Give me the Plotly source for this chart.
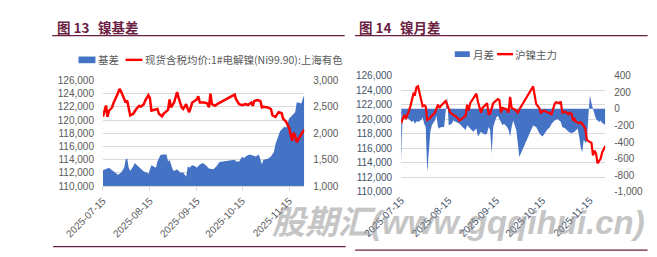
import plotly.graph_objects as go

# ---------------- data: 图13 镍基差 ----------------
basis_dates = ["07-15","07-18","07-19","07-21","07-23","07-25","07-27","07-29","07-30","07-31",
               "08-01","08-02","08-04","08-05","08-06","08-08","08-09","08-11","08-13","08-14",
               "08-16","08-17","08-19","08-20","08-22","08-24","08-26","08-27","08-28","08-30",
               "08-31","09-02","09-04","09-06","09-08","09-09","09-10","09-12","09-14","09-15",
               "09-17","09-19","09-21","09-23","09-26","09-28","09-30","10-10","10-11","10-13",
               "10-15","10-16","10-18","10-20","10-22","10-24","10-26","10-28","10-29","11-01",
               "11-03","11-05","11-06","11-07","11-08","11-09","11-10","11-11","11-12","11-13",
               "11-14","11-15","11-16","11-17","11-19","11-20","11-21","11-23","11-25"]
basis_vals = [1300,1336,1348,1300,1258,1216,1258,1348,1498,1528,
              1348,1288,1378,1438,1408,1360,1318,1276,1258,1228,
              1396,1378,1348,1468,1589,1601,1601,1468,1498,1318,
              1288,1318,1258,1258,1180,1378,1348,1396,1378,1348,
              1408,1438,1396,1336,1318,1378,1456,1498,1468,1468,
              1559,1528,1577,1601,1577,1559,1601,1408,1498,1517,
              1559,1649,1799,1889,1949,2039,2069,2099,2129,2099,
              2219,2279,2309,2339,2399,2580,2580,2562,2730]

spot_dates = ["07-15","07-17","07-18","07-19","07-21","07-22","07-24","07-26","07-27","07-29",
              "07-30","07-31","08-01","08-02","08-04","08-06","08-08","08-09","08-11","08-12",
              "08-14","08-15","08-16","08-18","08-20","08-21","08-23","08-24","08-26","08-27",
              "08-28","08-29","08-31","09-02","09-03","09-05","09-06","09-08","09-09","09-10",
              "09-12","09-14","09-15","09-16","09-17","09-20","09-22","09-23","09-24","09-25",
              "09-27","09-29","10-10","10-11","10-13","10-15","10-17","10-19","10-21","10-22",
              "10-23","10-25","10-27","10-28","10-29","11-01","11-03","11-04","11-06","11-08",
              "11-10","11-11","11-13","11-15","11-16","11-17","11-18","11-19","11-20","11-21",
              "11-23","11-25"]
spot_vals = [120500,122200,120500,121400,121900,122600,123600,124700,124300,123350,
             122640,122970,121900,120700,120950,121670,122150,122000,122400,122970,
             123740,123350,121430,121580,121670,120950,120570,120950,121430,121530,
             123120,121910,122640,124220,123350,121910,121670,122400,121670,121190,
             122640,122880,123120,123600,122640,122640,122490,121910,123980,122400,
             122150,122490,123840,123120,122400,122250,122400,122300,122640,122150,
             122880,123020,122880,121910,122000,121910,121670,120710,120470,121190,
             121050,120230,119750,118790,117590,116870,118070,117590,116630,117110,
             117830,118550]

# ---------------- data: 图14 镍月差 ----------------
spread_dates = ["07-15","07-16","07-17","07-18","07-20","07-22","07-23","07-24","07-25","07-26",
                "07-28","07-29","07-30","07-31","08-01","08-03","08-04","08-06","08-07","08-08",
                "08-09","08-10","08-12","08-13","08-14","08-15","08-17","08-18","08-20","08-22",
                "08-24","08-26","08-27","08-29","08-31","09-02","09-03","09-05","09-06","09-08",
                "09-09","09-10","09-11","09-12","09-13","09-14","09-15","09-16","09-18","09-19",
                "09-20","09-22","09-23","09-24","09-25","09-26","09-27","09-28","09-29","09-30",
                "10-09","10-11","10-12","10-13","10-15","10-16","10-18","10-20","10-21","10-23",
                "10-25","10-27","10-28","10-30","11-01","11-03","11-05","11-07","11-08","11-09",
                "11-10","11-11","11-12","11-13","11-14","11-15","11-16","11-17","11-18","11-19",
                "11-20","11-21","11-22","11-23","11-24","11-25"]
spread_vals = [-637,-65,-84,-103,-122,-160,-141,-179,-149,-160,
               -134,-103,-179,-218,-763,-275,-198,-141,-84,-218,
               -237,-218,-218,-65,145,-198,-179,-141,-160,-179,
               -218,-256,-198,-237,-275,-237,-332,-275,-294,-313,
               -294,-218,-256,-542,-218,-160,-103,-84,-160,-198,
               -179,-218,-256,-332,-218,-141,-198,-256,-408,-580,
               -200,-218,-256,-294,-332,-313,-256,-218,-179,-141,
               -122,-160,-218,-237,-275,-294,-275,-237,-332,-466,
               -523,-370,-408,-389,-84,164,69,-8,-65,-122,
               -141,-160,-141,-172,-179,-198]

main_dates = ["07-15","07-16","07-17","07-18","07-19","07-20","07-21","07-22","07-23","07-24",
              "07-25","07-26","07-27","07-28","07-29","07-30","07-31","08-01","08-03","08-04",
              "08-06","08-08","08-09","08-10","08-12","08-13","08-14","08-16","08-18","08-20",
              "08-22","08-24","08-26","08-27","08-28","08-29","08-31","09-02","09-03","09-05",
              "09-06","09-08","09-09","09-10","09-11","09-13","09-14","09-16","09-17","09-18",
              "09-19","09-21","09-22","09-23","09-24","09-25","09-27","09-28","09-29","09-30",
              "10-09","10-10","10-11","10-13","10-14","10-16","10-17","10-19","10-21","10-22",
              "10-23","10-24","10-26","10-27","10-28","10-30","11-01","11-02","11-03","11-04",
              "11-05","11-06","11-08","11-09","11-10","11-12","11-13","11-14","11-16","11-17",
              "11-18","11-19","11-20","11-22","11-23","11-25"]
main_vals = [119460,120030,120600,120030,120470,121120,121770,122640,123520,123390,
             124390,124520,123730,122640,121770,121900,121770,119900,120160,120470,
             120900,121990,121550,121860,122340,122510,121990,120900,120600,120330,
             119810,120160,120470,121990,121200,122210,122860,123520,122430,120900,
             121550,121990,122210,120680,120770,122210,122430,122770,122640,120900,
             121550,121340,121340,120900,123080,121550,121340,121120,120900,121340,
             124520,123300,122080,121550,120900,121200,121120,120900,120680,121340,
             122080,122340,122210,122430,120900,121030,120680,120900,120770,119810,
             120030,119590,119460,119590,119370,118720,117190,116980,116760,115020,
             115670,115230,113930,114580,115450,116320]

date_ticks = ["2025-07-15", "2025-08-15", "2025-09-15", "2025-10-15", "2025-11-15"]
price_ticks = [110000, 112000, 114000, 116000, 118000, 120000, 122000, 124000, 126000]
basis_ticks = [1000, 1500, 2000, 2500, 3000]
spread_ticks = [-1000, -800, -600, -400, -200, 0, 200, 400]

def full(ds):
    return ["2025-" + d for d in ds]

def fmt(v):
    return f"{v:,}"

W, H = 657, 257
BLUE = "#4472C4"
RED = "#FF0000"
GRID = "#d9d9d9"
TXT = "#595959"
TXT2 = "#44546A"
TITLE = "#6B1F43"
TICKFONT = dict(family="Liberation Sans, Arial, sans-serif", size=10, color=TXT)
CJK = "Noto Sans CJK SC, sans-serif"

def px(x):
    return x / W

def py(y):
    return 1 - y / H

fig = go.Figure()

# left chart
fig.add_trace(go.Scatter(x=full(basis_dates), y=basis_vals, xaxis="x", yaxis="y",
                         mode="lines", fill="tozeroy", fillcolor=BLUE,
                         line=dict(width=0, color=BLUE), name="基差", showlegend=False))
fig.add_trace(go.Scatter(x=full(spot_dates), y=spot_vals, xaxis="x", yaxis="y2",
                         mode="lines", line=dict(width=2.5, color=RED),
                         name="现货含税均价:1#电解镍(Ni99.90):上海有色", showlegend=False))
# right chart
fig.add_trace(go.Scatter(x=full(spread_dates), y=spread_vals, xaxis="x2", yaxis="y3",
                         mode="lines", fill="tozeroy", fillcolor=BLUE,
                         line=dict(width=0, color=BLUE), name="月差", showlegend=False))
fig.add_trace(go.Scatter(x=full(main_dates), y=main_vals, xaxis="x2", yaxis="y4",
                         mode="lines", line=dict(width=2.2, color=RED),
                         name="沪镍主力", showlegend=False))

xr = ["2025-07-15", "2025-11-25"]

fig.update_layout(
    width=W, height=H, autosize=False,
    margin=dict(l=0, r=0, t=0, b=0),
    paper_bgcolor="white", plot_bgcolor="white",
    xaxis=dict(domain=[px(68), px(282)], anchor="y", type="date", range=xr,
               tickvals=date_ticks, ticktext=date_ticks, tickangle=-45,
               ticks="outside", ticklen=4, tickcolor=GRID, showline=True, linecolor=GRID,
               showgrid=False, zeroline=False, tickfont=TICKFONT),
    yaxis=dict(domain=[py(189), py(78)], anchor="x", side="right", range=[1000, 3000],
               tickvals=basis_ticks, ticktext=[fmt(v) for v in basis_ticks],
               showgrid=False, zeroline=False, tickfont=TICKFONT, ticklabelstandoff=8),
    yaxis2=dict(overlaying="y", anchor="x", side="left", range=[110000, 126000],
                tickvals=price_ticks, ticktext=[fmt(v) for v in price_ticks],
                showgrid=True, gridcolor=GRID, gridwidth=1, zeroline=False,
                tickfont=TICKFONT, ticklabelstandoff=8),
    xaxis2=dict(domain=[px(385), px(602)], anchor="y3", type="date", range=xr,
                tickvals=date_ticks, ticktext=date_ticks, tickangle=-45,
                ticks="", showline=False, showgrid=False, zeroline=False,
                tickfont=dict(TICKFONT, color=TXT2)),
    yaxis3=dict(domain=[py(195), py(73)], anchor="x2", side="right", range=[-1000, 400],
                tickvals=spread_ticks, ticktext=[fmt(v) for v in spread_ticks],
                showgrid=False, zeroline=False, tickfont=TICKFONT, ticklabelstandoff=8),
    yaxis4=dict(overlaying="y3", anchor="x2", side="left", range=[110000, 126000],
                tickvals=price_ticks, ticktext=[fmt(v) for v in price_ticks],
                showgrid=True, gridcolor=GRID, gridwidth=1, zeroline=False,
                tickfont=dict(TICKFONT, color=TXT2), ticklabelstandoff=8),
)

shapes = []
annotations = []

def line(x0, y0, x1, y1, color, width):
    shapes.append(dict(type="line", xref="paper", yref="paper",
                       x0=px(x0), y0=py(y0), x1=px(x1), y1=py(y1),
                       line=dict(color=color, width=width)))

def rect(x0, y0, x1, y1, color):
    shapes.append(dict(type="rect", xref="paper", yref="paper",
                       x0=px(x0), y0=py(y0), x1=px(x1), y1=py(y1),
                       fillcolor=color, line=dict(width=0)))

def text(x, y, s, size, color, family=CJK, xanchor="left", bold=False):
    annotations.append(dict(xref="paper", yref="paper", x=px(x), y=py(y), text=s,
                            showarrow=False, xanchor=xanchor, yanchor="middle",
                            font=dict(family=family, size=size, color=color,
                                      weight="bold" if bold else "normal")))

# titles and frame lines
text(17, 22, "图 13", 13.5, TITLE, bold=True)
text(61, 22, "镍基差", 13.5, TITLE, bold=True)
text(338, 22, "图 14", 13.5, TITLE, bold=True)
text(382, 22, "镍月差", 13.5, TITLE, bold=True)
line(14, 31, 325, 31, TITLE, 1.2)
line(336, 31, 647, 31, TITLE, 1.2)
line(15, 252.5, 326, 252.5, TITLE, 1.2)
line(336, 256, 647, 256, TITLE, 1.2)

# legends
rect(42, 53, 60, 60, BLUE)
text(61, 56, "基差", 10.5, TXT)
line(92, 56.5, 110, 56.5, RED, 2.4)
text(111, 56, "现货含税均价:1#电解镍(Ni99.90):上海有色", 10.5, TXT)

rect(442, 47.5, 458, 53.5, BLUE)
text(459, 50.5, "月差", 10.5, TXT)
line(487, 50.5, 504, 50.5, RED, 2.4)
text(504, 50.5, "沪镍主力", 10.5, TXT)

# watermark
annotations.append(dict(xref="paper", yref="paper", x=px(446), y=py(227),
                        text="股期汇(www.gqqihui.cn)", showarrow=False,
                        xanchor="center", yanchor="middle", opacity=0.5,
                        font=dict(family="Liberation Sans, Noto Sans CJK SC, sans-serif",
                                  size=33, color="#8c8c8c", weight="bold", style="italic")))

fig.update_layout(shapes=shapes, annotations=annotations)
fig.write_html("out.html")
